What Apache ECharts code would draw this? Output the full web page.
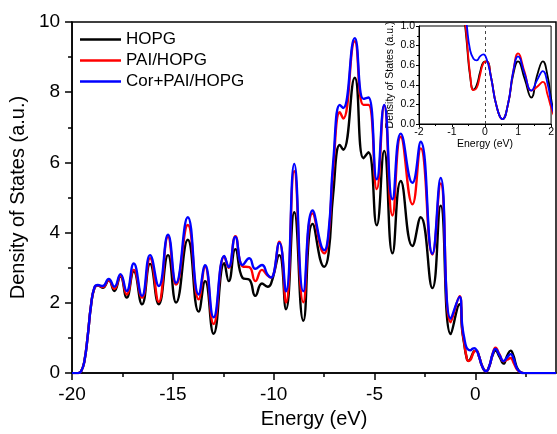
<!DOCTYPE html>
<html><head><meta charset="utf-8">
<script src="https://cdn.jsdelivr.net/npm/echarts@6/dist/echarts.min.js"></script>
<style>html,body{margin:0;padding:0;background:#fff}#c{width:557px;height:434px}</style>
</head><body><div id="c"></div>
<script>
// Energy (eV) sample positions
const energy = [-20.0,-19.7,-19.55,-19.39,-19.22,-19.06,-18.89,-18.72,-18.48,-18.18,-17.9,-17.6,-17.29,-16.94,-16.53,-16.13,-15.7,-15.24,-14.84,-14.26,-13.72,-13.4,-12.98,-12.45,-12.23,-11.9,-11.54,-11.21,-10.91,-10.58,-10.3,-10.13,-9.72,-9.39,-8.98,-8.53,-8.07,-7.49,-7.28,-7.05,-6.72,-6.55,-5.98,-5.55,-5.3,-4.89,-4.52,-4.11,-3.7,-3.12,-2.71,-2.13,-1.72,-1.22,-0.78,-0.65,-0.55,-0.45,-0.35,-0.25,-0.15,-0.05,0.05,0.18,0.35,0.53,0.7,0.85,1.0,1.2,1.4,1.58,1.75,1.9,2.0,2.1,2.25,2.4,4.0];
const hopg = [0,0,0.05,0.33,1.07,1.92,2.42,2.50,2.43,2.64,2.34,2.76,2.15,2.90,1.96,3.11,1.96,3.36,2.01,3.80,1.75,2.62,1.12,3.13,2.62,3.53,2.71,2.66,2.20,2.55,2.46,2.55,3.36,1.82,4.58,1.49,4.25,3.03,3.40,5.10,6.50,6.36,8.41,6.12,6.29,4.21,6.33,3.41,5.47,3.62,4.44,2.42,4.77,1.11,1.96,1.20,0.82,0.48,0.35,0.40,0.53,0.63,0.64,0.48,0.18,0.05,0.21,0.50,0.64,0.46,0.27,0.50,0.64,0.48,0.26,0.12,0.02,0,0];
const pai = [0,0,0.05,0.33,1.07,1.92,2.43,2.50,2.45,2.64,2.40,2.78,2.24,2.94,2.15,3.27,2.03,3.88,2.52,4.22,2.10,3.03,1.40,3.32,3.00,3.90,3.04,3.02,2.62,2.94,2.78,2.72,3.74,2.01,5.75,2.02,4.55,3.41,3.90,5.80,7.43,7.25,9.45,7.64,7.64,5.24,7.62,4.49,6.73,4.81,6.40,3.38,5.40,1.45,2.19,1.25,0.86,0.50,0.345,0.37,0.50,0.62,0.64,0.48,0.18,0.05,0.21,0.53,0.72,0.53,0.34,0.38,0.43,0.29,0.17,0.08,0.02,0,0];
const corPai = [0,0,0.05,0.33,1.07,1.92,2.44,2.51,2.48,2.68,2.46,2.82,2.34,3.12,2.20,3.36,2.48,3.94,2.57,4.44,2.24,3.07,1.59,3.34,3.02,3.88,3.08,3.27,2.97,3.08,2.80,2.72,3.71,2.33,5.96,2.33,4.63,3.50,4.00,6.00,7.64,7.55,9.54,7.81,7.85,5.52,7.64,4.95,6.82,5.42,6.59,3.40,5.56,1.55,2.17,1.35,1.00,0.75,0.667,0.65,0.69,0.71,0.66,0.48,0.18,0.05,0.21,0.53,0.69,0.51,0.34,0.45,0.54,0.40,0.22,0.10,0.02,0,0];
const seriesNames = ['HOPG','PAI/HOPG','Cor+PAI/HOPG'];
const seriesColors = ['#000000','#ff0000','#0000ff'];
const xMajorTicks = [-20,-15,-10,-5,0];
const xMinorTicks = [-17.5,-12.5,-7.5,-2.5,2.5];

const values = [hopg, pai, corPai];
const pairs = v => energy.map((e,i)=>[e, v[i]]);
const FONT = 'Liberation Sans, Arial, sans-serif';

const series = [];
values.forEach((v,k)=>{
  series.push({name: seriesNames[k], type:'line', xAxisIndex:0, yAxisIndex:0, data: pairs(v),
    smooth:0.5, symbol:'none', lineStyle:{color:seriesColors[k], width:2.4}, itemStyle:{color:seriesColors[k]}, z:2+k});
});
values.forEach((v,k)=>{
  const s = {name: seriesNames[k], type:'line', xAxisIndex:2, yAxisIndex:1, data: pairs(v),
    smooth:0.5, symbol:'none', clip:true, lineStyle:{color:seriesColors[k], width:1.8}, itemStyle:{color:seriesColors[k]}, z:5+k};
  if (k===0) s.markLine = {silent:true, symbol:'none', label:{show:false},
    lineStyle:{type:[3,3], color:'#444', width:1}, data:[{xAxis:0}]};
  series.push(s);
});

const chart = echarts.init(document.getElementById('c'), null, {renderer:'canvas'});
chart.setOption({
  animation:false,
  backgroundColor:'#fff',
  textStyle:{fontFamily:FONT},
  grid:[
    {left:71, top:22, width:485, height:356, show:true, borderColor:'#000', borderWidth:1.5, backgroundColor:'transparent'},
    {left:419, top:26, width:133, height:98, show:true, borderColor:'#000', borderWidth:1, backgroundColor:'#fff'}
  ],
  legend:{
    data:seriesNames, orient:'vertical', left:80, top:29, padding:0, itemGap:0,
    icon:'rect', itemWidth:41, itemHeight:2.4,
    textStyle:{fontFamily:FONT, fontSize:17, color:'#000', lineHeight:21}
  },
  xAxis:[
    {gridIndex:0, type:'value', min:-20, max:4, interval:5,
     name:'Energy (eV)', nameLocation:'middle', nameGap:35,
     nameTextStyle:{fontFamily:FONT, fontSize:20, color:'#000'},
     axisLine:{show:true, onZero:false, lineStyle:{color:'#000', width:1.5}},
     axisTick:{show:true, inside:false, length:7, lineStyle:{color:'#000', width:1.5}, customValues:xMajorTicks},
     axisLabel:{show:true, margin:12, fontFamily:FONT, fontSize:19, color:'#000', customValues:xMajorTicks},
     splitLine:{show:false}},
    {gridIndex:0, type:'value', min:-20, max:4, position:'bottom',
     axisLine:{show:false},
     axisTick:{show:true, inside:false, length:4, lineStyle:{color:'#000', width:1.5}, customValues:xMinorTicks},
     axisLabel:{show:false}, splitLine:{show:false}},
    {gridIndex:1, type:'value', min:-2, max:2, interval:1,
     name:'Energy (eV)', nameLocation:'middle', nameGap:7,
     nameTextStyle:{fontFamily:FONT, fontSize:10.5, color:'#000'},
     axisLine:{show:true, onZero:false, lineStyle:{color:'#000', width:1}},
     axisTick:{show:true, length:3, lineStyle:{color:'#000', width:1}},
     minorTick:{show:true, splitNumber:2, length:2, lineStyle:{color:'#000', width:1}},
     axisLabel:{margin:3, fontFamily:FONT, fontSize:10.5, color:'#000'},
     splitLine:{show:false}}
  ],
  yAxis:[
    {gridIndex:0, type:'value', min:0, max:10, interval:2,
     name:'Density of States (a.u.)', nameLocation:'middle', nameGap:39,
     nameTextStyle:{fontFamily:FONT, fontSize:20, color:'#000'},
     axisLine:{show:true, onZero:false, lineStyle:{color:'#000', width:1.5}},
     axisTick:{show:true, length:7, lineStyle:{color:'#000', width:1.5}},
     minorTick:{show:true, splitNumber:2, length:4, lineStyle:{color:'#000', width:1.5}},
     axisLabel:{margin:12, fontFamily:FONT, fontSize:19, color:'#000'},
     splitLine:{show:false}},
    {gridIndex:1, type:'value', min:0, max:1, interval:0.2,
     name:'Density of States (a.u.)', nameLocation:'middle', nameGap:23,
     nameTextStyle:{fontFamily:FONT, fontSize:10.5, color:'#000'},
     axisLine:{show:true, onZero:false, lineStyle:{color:'#000', width:1}},
     axisTick:{show:true, length:3, lineStyle:{color:'#000', width:1}},
     minorTick:{show:true, splitNumber:2, length:2, lineStyle:{color:'#000', width:1}},
     axisLabel:{margin:4, fontFamily:FONT, fontSize:10.5, color:'#000', formatter:v=>v.toFixed(1)},
     splitLine:{show:false}}
  ],
  series:series
});
</script>
</body></html>
